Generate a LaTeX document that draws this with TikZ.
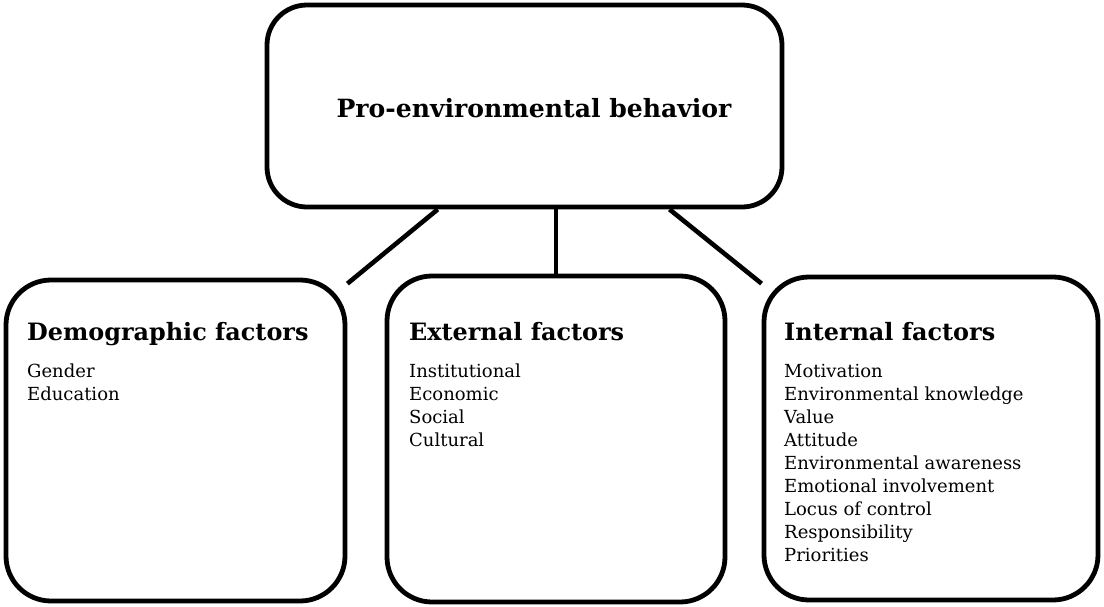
\documentclass[tikz,border=0pt]{standalone}
\usepackage{fontspec}
\setmainfont{DejaVu Serif}
\usetikzlibrary{calc, math}

\tikzset{
 factorbox/.style={draw, line width=4.8pt, rounded corners=45pt, inner sep=0pt},
 heading/.style={anchor=base west, inner sep=0pt, font=\fontsize{23.9}{28}\selectfont\bfseries},
 item/.style={anchor=base west, inner sep=0pt, font=\fontsize{18}{22}\selectfont},
 link/.style={line width=4.6pt},
}

\begin{document}
\begin{tikzpicture}[x=1pt, y=1pt]
\tikzmath{
\dy=23;
\ytop=-377;
}
\useasboundingbox (0,0) rectangle (1104,-606);

 %top box:
 \node[factorbox, rounded corners=40pt, minimum width=515pt, minimum height=202pt] (pro) at (524.5,-106) {};
 \node[anchor=base, inner sep=0pt, font=\fontsize{25.1}{30}\selectfont\bfseries] (protitle) at (534,-117) {Pro-environmental behavior};

 %factor boxes:
 \node[factorbox, minimum width=339pt, minimum height=321pt] (demo) at (175.5,-440.5) {};
 \node[factorbox, minimum width=338pt, minimum height=326pt] (ext) at (556,-439) {};
 \node[factorbox, minimum width=334pt, minimum height=323pt] (int) at (931,-438.5) {};

 %links:
 \coordinate (linkL) at ($(pro.south west)!0.333!(pro.south east)$);
 \coordinate (linkR) at ($(pro.south west)!0.779!(pro.south east)$);
 \coordinate (demoend) at ($(demo.north east)+(0,-6)$);
 \coordinate (intend) at ($(int.north west)+(0,-9)$);
 \draw[link] (linkL) -- (demoend);
 \draw[link] (pro.south -| ext.north) -- (ext.north);
 \draw[link] (linkR) -- (intend);

 %texts:
 \node[heading] (demohead) at (27,-340) {Demographic factors};
 \foreach \t [count=\i] in {Gender, Education}
  \node[item] (demo-\i) at (27,{\ytop-\dy*(\i-1)}) {\t};

 \node[heading] (exthead) at (409,-340) {External factors};
 \foreach \t [count=\i] in {Institutional, Economic, Social, Cultural}
  \node[item] (ext-\i) at (409,{\ytop-\dy*(\i-1)}) {\t};

 \node[heading] (inthead) at (784,-340) {Internal factors};
 \foreach \t [count=\i] in {Motivation, Environmental knowledge, Value, Attitude, Environmental awareness, Emotional involvement, Locus of control, Responsibility, Priorities}
  \node[item] (int-\i) at (784,{\ytop-\dy*(\i-1)}) {\t};
\end{tikzpicture}
\end{document}
